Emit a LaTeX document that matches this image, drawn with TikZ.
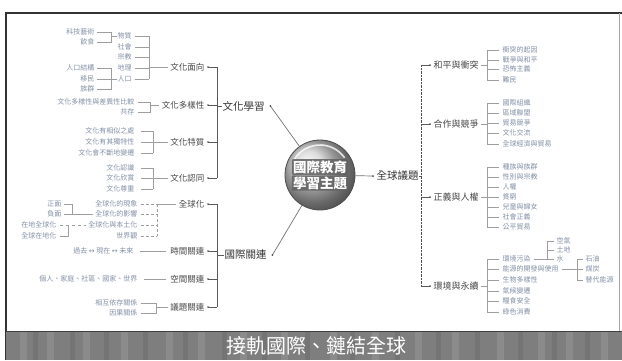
\documentclass[tikz,border=0pt]{standalone}
\usepackage{fontspec}
\setmainfont{Noto Sans CJK TC}
\newfontfamily\djv{DejaVu Sans}
\usetikzlibrary{arrows.meta}
\definecolor{itemc}{HTML}{8290A6}
\definecolor{bandc}{HTML}{7E7E7E}
\begin{document}
\begin{tikzpicture}[x=1pt,y=-1pt,
  item/.style={font=\fontsize{7}{8}\selectfont, text=itemc, inner sep=0.5pt},
  mid/.style={font=\fontsize{8.5}{9}\selectfont, text=black!72, inner sep=0.5pt},
  midr/.style={font=\fontsize{9}{10}\selectfont, text=black!72, inner sep=0.5pt},
  main/.style={font=\fontsize{10.5}{11}\selectfont, text=black!80, inner sep=0.5pt},
  balltxt/.style={font=\fontsize{13.5}{14}\selectfont\bfseries, text=white, fill=black!62, fill opacity=0.85, text opacity=1, inner sep=1.2pt, rounded corners=1pt},
  ln/.style={draw=black!38, line width=0.4pt},
  lk/.style={draw=black!65, line width=0.5pt},
  lr/.style={draw=black!70, line width=0.8pt, dash pattern=on 1pt off 0.4pt},
  conn/.style={draw=black!55, line width=0.7pt},
  dotc/.style={fill=black!70}]
\useasboundingbox (0,0) rectangle (622,360);
\fill[white] (0,0) rectangle (622,360);
% frame
\draw[black!80, line width=1.3pt] (6,360) -- (6,13) -- (622,13);
\draw[black!35, line width=0.6pt] (619,13) -- (619,331);
% banner
\fill[bandc] (6,331) rectangle (622,360);
\foreach \xx in {20,47,83,121,166,198,240,281,330,372,415,452,497,538,566,601}
  \fill[white, opacity=0.10] (\xx,332) rectangle (\xx+7,360);
\foreach \xx in {33,70,104,143,183,222,262,305,350,395,436,475,518,552,585}
  \fill[black, opacity=0.08] (\xx,332) rectangle (\xx+5,360);
\draw[black!75, line width=1pt] (6,331) -- (622,331);
\node[font=\fontsize{20}{22}\selectfont, text=white, inner sep=0pt] (title) at (316,346) {接軌國際、鏈結全球};

% center ball
\node[circle, minimum size=70pt, inner sep=0pt, shading=ball, ball color=black!18, draw=black!70, line width=0.8pt] (ball) at (320,175) {};
\draw[white, line width=1.6pt, opacity=0.8] ([shift={(-155:30)}]ball.center) arc[start angle=-155, end angle=-35, radius=30];
\node[balltxt] (bt1) at (320,167) {國際教育};
\node[balltxt] (bt2) at (320,183) {學習主題};

% main branches
\node[main, anchor=west] (wx) at (222,106) {文化學習};
\node[main, anchor=west] (gj) at (224,255) {國際關連};
\node[main, anchor=west] (qq) at (376,176) {全球議題};
\coordinate (wxd) at ([xshift=5pt]wx.east);
\coordinate (gjd) at ([xshift=5pt]gj.east);
\coordinate (qqd) at ([xshift=-3pt]qq.west);
\draw[conn] (wxd) -- (ball);
\draw[conn] (gjd) -- (ball);
\draw[conn] (ball) -- (qqd);
\fill[dotc] (wxd) circle (1pt);
\fill[dotc] (gjd) circle (1pt);
\fill[dotc] (qqd) circle (1pt);

% left mid labels
\node[mid, anchor=east] (wm) at (205,67) {文化面向};
\node[mid, anchor=east] (wd) at (205,105) {文化多樣性};
\node[mid, anchor=east] (wt) at (205,142) {文化特質};
\node[mid, anchor=east] (wr) at (205,178) {文化認同};
\node[mid, anchor=east] (gq) at (205,204) {全球化};
\node[mid, anchor=east] (sj) at (205,251) {時間關連};
\node[mid, anchor=east] (kj) at (205,279) {空間關連};
\node[mid, anchor=east] (yt) at (205,307) {議題關連};
\coordinate (vL) at (217,0);
\foreach \n in {wm,wd,wt,wr,gq,sj,kj,yt}{
  \draw[lk] ([xshift=3pt]\n.east) -- (\n.east -| vL);
  \fill[dotc] ([xshift=3pt]\n.east) circle (0.9pt);
}
\draw[lk] (wm.east -| vL) -- (wr.east -| vL);
\draw[lk] (gq.east -| vL) -- (yt.east -| vL);
\draw[lk] (wx.west -| vL) -- (wx.west);
\draw[lk] (gj.west -| vL) -- (gj.west);

% 文化面向 subtree
\node[item, anchor=west] (b1) at (117,36) {物質};
\node[item, anchor=west] (b2) at (117,47) {社會};
\node[item, anchor=west] (b3) at (117,57) {宗教};
\node[item, anchor=west] (b4) at (117,68) {地理};
\node[item, anchor=west] (b5) at (117,79) {人口};
\coordinate (bx) at (149,0);
\foreach \n in {b1,b2,b3,b4,b5} \draw[ln] ([xshift=3pt]\n.east) -- (\n.east -| bx);
\draw[ln] (b1.east -| bx) -- (b5.east -| bx);
\draw[ln] (wm.west -| bx) -- ([xshift=-2pt]wm.west);
\node[item, anchor=east] (a1) at (95,32) {科技藝術};
\node[item, anchor=east] (a2) at (95,42) {飲食};
\node[item, anchor=east] (a3) at (95,68) {人口結構};
\node[item, anchor=east] (a4) at (95,79) {移民};
\node[item, anchor=east] (a5) at (95,89) {族群};
\coordinate (ax) at (111,0);
\draw[ln] ([xshift=2pt]a1.east) -- (a1.east -| ax) -- (a2.east -| ax) -- ([xshift=2pt]a2.east);
\draw[ln] (b1.west) -- (b1.west -| ax);
\draw[ln] ([xshift=2pt]a3.east) -- (a3.east -| ax) -- (a5.east -| ax) -- ([xshift=2pt]a5.east);
\draw[ln] ([xshift=2pt]a4.east) -- (a4.east -| ax);
\draw[ln] (b5.west) -- (b5.west -| ax);

% 文化多樣性
\node[item, anchor=east] (d1) at (135,102) {文化多樣性與差異性比較};
\node[item, anchor=east] (d2) at (135,112) {共存};
\coordinate (dx) at (150,0);
\draw[ln] ([xshift=3pt]d1.east) -- (d1.east -| dx) -- (d2.east -| dx) -- ([xshift=3pt]d2.east);
\draw[ln] (wd.west -| dx) -- ([xshift=-2pt]wd.west);

% 文化特質
\node[item, anchor=east] (t1) at (135,131) {文化有相似之處};
\node[item, anchor=east] (t2) at (135,142) {文化有其獨特性};
\node[item, anchor=east] (t3) at (135,153) {文化會不斷地變遷};
\coordinate (tx) at (153,0);
\foreach \n in {t1,t2,t3} \draw[ln] ([xshift=6pt]\n.east) -- (\n.east -| tx);
\draw[ln] (t1.east -| tx) -- (t3.east -| tx);
\draw[ln] (wt.west -| tx) -- ([xshift=-2pt]wt.west);

% 文化認同
\node[item, anchor=east] (r1) at (135,168) {文化認識};
\node[item, anchor=east] (r2) at (135,178) {文化欣賞};
\node[item, anchor=east] (r3) at (135,189) {文化尊重};
\foreach \n in {r1,r2,r3} \draw[ln] ([xshift=6pt]\n.east) -- (\n.east -| tx);
\draw[ln] (r1.east -| tx) -- (r3.east -| tx);
\draw[ln] (wr.west -| tx) -- ([xshift=-2pt]wr.west);

% 全球化
\node[item, anchor=east] (g1) at (138,204) {全球化的現象};
\node[item, anchor=east] (g2) at (138,214) {全球化的影響};
\node[item, anchor=east] (g3) at (138,225) {全球化與本土化};
\node[item, anchor=east] (g4) at (138,236) {世界觀};
\coordinate (gx) at (157,0);
\foreach \n in {g1,g2,g3,g4} \draw[ln, densely dashed] ([xshift=3pt]\n.east) -- (\n.east -| gx);
\draw[ln, densely dashed] (g1.east -| gx) -- (g4.east -| gx);
\draw[ln] (gq.west -| gx) -- ([xshift=-2pt]gq.west);
\node[item, anchor=east] (p1) at (62,204) {正面};
\node[item, anchor=east] (p2) at (62,214) {負面};
\coordinate (px) at (72,0);
\draw[ln] ([xshift=2pt]p1.east) -- (p1.east -| px) -- (p2.east -| px) -- ([xshift=2pt]p2.east);
\draw[ln] (p2.east -| px) -- ([xshift=-2pt]g2.west);
\node[item, anchor=east] (l1) at (57,225) {在地全球化};
\node[item, anchor=east] (l2) at (57,236) {全球在地化};
\coordinate (lx) at (68,0);
\draw[ln, dashed] ([xshift=3pt]l1.east) -- ([xshift=-2pt]g3.west);
\draw[ln] ([xshift=3pt]l2.east) -- (l2.east -| lx) -- (l1.east -| lx);

% 時間關連
\node[item, anchor=east] (s1) at (134,251) {過去 {\djv ↔} 現在 {\djv ↔} 未來};
\draw[ln] ([xshift=6pt]s1.east) -- ([xshift=-4pt]sj.west);
% 空間關連
\node[item, anchor=east] (k1) at (138,279) {個人、家庭、社區、國家、世界};
\draw[ln] ([xshift=6pt]k1.east) -- ([xshift=-4pt]kj.west);
% 議題關連
\node[item, anchor=east] (y1) at (138,303) {相互依存關係};
\node[item, anchor=east] (y2) at (138,313) {因果關係};
\coordinate (yx) at (156,0);
\draw[ln] ([xshift=3pt]y1.east) -- (y1.east -| yx) -- (y2.east -| yx) -- ([xshift=3pt]y2.east);
\draw[ln] (yt.west -| yx) -- ([xshift=-2pt]yt.west);

% right side
\node[midr, anchor=west] (hp) at (433,65) {和平與衝突};
\node[midr, anchor=west] (hz) at (433,124) {合作與競爭};
\node[midr, anchor=west] (zy) at (433,197) {正義與人權};
\node[midr, anchor=west] (hj) at (433,286) {環境與永續};
\coordinate (vR) at (421,0);
\draw[lr] (hp.west -| vR) -- (hj.west -| vR);
\draw[lk] (qq.east) -- (qq.east -| vR);
\foreach \n in {hp,hz,zy,hj}{
  \draw[lk] (\n.west -| vR) -- ([xshift=-3pt]\n.west);
  \fill[dotc] ([xshift=-3pt]\n.west) circle (1pt);
}
\coordinate (rx) at (487,0);
% 和平與衝突
\node[item, anchor=west] (h1) at (502,50) {衝突的起因};
\node[item, anchor=west] (h2) at (502,60) {戰爭與和平};
\node[item, anchor=west] (h3) at (502,69) {恐怖主義};
\node[item, anchor=west] (h4) at (502,80) {難民};
\foreach \n in {h1,h2,h3,h4} \draw[ln] (\n.west -| rx) -- ([xshift=-3pt]\n.west);
\draw[ln] (h1.west -| rx) -- (h4.west -| rx);
\draw[ln] ([xshift=2pt]hp.east) -- (hp.east -| rx);
% 合作與競爭
\node[item, anchor=west] (z1) at (502,103) {國際組織};
\node[item, anchor=west] (z2) at (502,113) {區域聯盟};
\node[item, anchor=west] (z3) at (502,123) {貿易競爭};
\node[item, anchor=west] (z4) at (502,133) {文化交流};
\node[item, anchor=west] (z5) at (502,144) {全球經濟與貿易};
\foreach \n in {z1,z2,z3,z4,z5} \draw[ln] (\n.west -| rx) -- ([xshift=-3pt]\n.west);
\draw[ln] (z1.west -| rx) -- (z5.west -| rx);
\draw[ln] ([xshift=2pt]hz.east) -- (hz.east -| rx);
% 正義與人權
\node[item, anchor=west] (j1) at (502,167) {種族與族群};
\node[item, anchor=west] (j2) at (502,177) {性別與宗教};
\node[item, anchor=west] (j3) at (502,187) {人權};
\node[item, anchor=west] (j4) at (502,197) {貧窮};
\node[item, anchor=west] (j5) at (502,207) {兒童與婦女};
\node[item, anchor=west] (j6) at (502,217) {社會正義};
\node[item, anchor=west] (j7) at (502,227) {公平貿易};
\foreach \n in {j1,j2,j3,j4,j5,j6,j7} \draw[ln] (\n.west -| rx) -- ([xshift=-3pt]\n.west);
\draw[ln] (j1.west -| rx) -- (j7.west -| rx);
\draw[ln] ([xshift=2pt]zy.east) -- (zy.east -| rx);
% 環境與永續
\node[item, anchor=west] (e1) at (502,259) {環境污染};
\node[item, anchor=west] (e2) at (502,269) {能源的開發與使用};
\node[item, anchor=west] (e3) at (502,280) {生物多樣性};
\node[item, anchor=west] (e4) at (502,291) {氣候變遷};
\node[item, anchor=west] (e5) at (502,301) {糧食安全};
\node[item, anchor=west] (e6) at (502,312) {綠色消費};
\foreach \n in {e1,e2,e3,e4,e5,e6} \draw[ln] (\n.west -| rx) -- ([xshift=-3pt]\n.west);
\draw[ln] (e1.west -| rx) -- (e6.west -| rx);
\draw[ln] ([xshift=2pt]hj.east) -- (hj.east -| rx);
\node[item, anchor=west] (f1) at (556,241) {空氣};
\node[item, anchor=west] (f2) at (556,250) {土地};
\node[item, anchor=west] (f3) at (556,259) {水};
\coordinate (fx) at (547,0);
\foreach \n in {f1,f2,f3} \draw[ln] (\n.west -| fx) -- ([xshift=-2pt]\n.west);
\draw[ln] (f1.west -| fx) -- (f3.west -| fx);
\draw[ln] ([xshift=3pt]e1.east) -- (e1.east -| fx);
\node[item, anchor=west] (o1) at (585,259) {石油};
\node[item, anchor=west] (o2) at (585,269) {煤炭};
\node[item, anchor=west] (o3) at (585,280) {替代能源};
\coordinate (ox) at (577,0);
\foreach \n in {o1,o2,o3} \draw[ln] (\n.west -| ox) -- ([xshift=-2pt]\n.west);
\draw[ln] (o1.west -| ox) -- (o3.west -| ox);
\draw[ln] ([xshift=3pt]e2.east) -- (e2.east -| ox);
\end{tikzpicture}
\end{document}
